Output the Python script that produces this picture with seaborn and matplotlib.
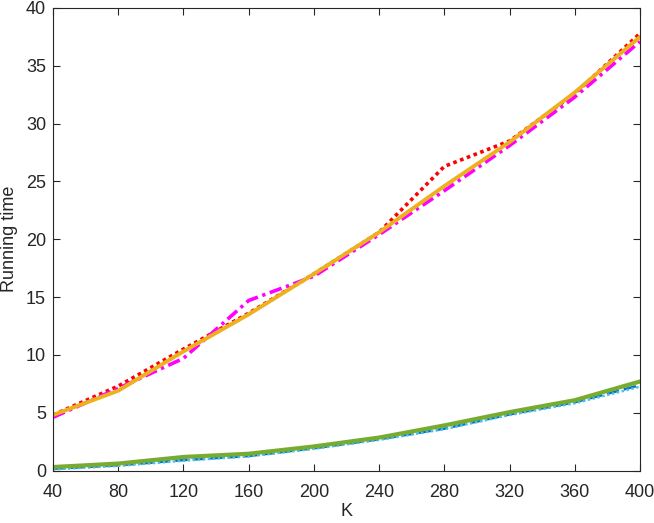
import numpy as np
import pandas as pd
import matplotlib
matplotlib.use('Agg')
import matplotlib.pyplot as plt
import seaborn as sns

# data
K = [40, 80, 120, 160, 200, 240, 280, 320, 360, 400]
red_dotted = [4.8, 7.3, 10.5, 13.6, 17.0, 20.6, 26.3, 28.5, 32.6, 37.8]
magenta_dashdot = [4.6, 7.1, 9.7, 14.7, 16.8, 20.4, 24.2, 28.1, 32.3, 37.1]
orange_solid = [4.8, 6.9, 10.3, 13.5, 17.0, 20.6, 24.6, 28.4, 32.7, 37.5]
green_solid = [0.3, 0.6, 1.17, 1.45, 2.08, 2.85, 3.9, 5.05, 6.08, 7.7]
blue_dashed = [0.15, 0.45, 0.9, 1.25, 1.92, 2.7, 3.62, 4.85, 5.9, 7.38]
cyan_dotted = [0.1, 0.4, 0.85, 1.22, 1.88, 2.65, 3.58, 4.8, 5.82, 7.25]

sns.set_style('white')
plt.rcParams['font.family'] = ['Liberation Sans', 'DejaVu Sans']

fig = plt.figure(figsize=(6.54, 5.23), dpi=100)
ax = fig.add_axes([53/654, 1 - 470.5/523, 587/654, 462.5/523])

series = [
    (red_dotted, '#FF0000', (0, (1, 1)), 2.6),
    (magenta_dashdot, '#FF00FF', (0, (3.5, 1.3, 0.9, 1.3)), 2.6),
    (orange_solid, '#EDB120', '-', 2.8),
    (blue_dashed, '#0072BD', (0, (5, 2)), 1.8),
    (cyan_dotted, '#4DBEEE', (0, (1, 1)), 1.8),
    (green_solid, '#77AC30', '-', 3.0),
]
for y, c, ls, lw in series:
    sns.lineplot(x=K, y=y, ax=ax, color=c, linestyle=ls, linewidth=lw)

ax.set_xlim(40, 400)
ax.set_ylim(0, 40)
ax.set_xticks(K)
ax.set_yticks(np.arange(0, 41, 5))
ax.set_xlabel('K', fontsize=13, color='#262626')
ax.set_ylabel('Running time', fontsize=13, color='#262626')
ax.xaxis.set_label_coords(0.5, -0.07)
ax.yaxis.set_label_coords(-0.06, 0.5)
ax.tick_params(direction='in', length=5, width=0.8, colors='#262626',
               labelsize=13, top=True, right=True, bottom=True, left=True)
ax.tick_params(axis='x', pad=10)
ax.tick_params(axis='y', pad=5)
for s in ax.spines.values():
    s.set_color('#262626')
    s.set_linewidth(0.8)

fig.savefig('out.png', dpi=100)
